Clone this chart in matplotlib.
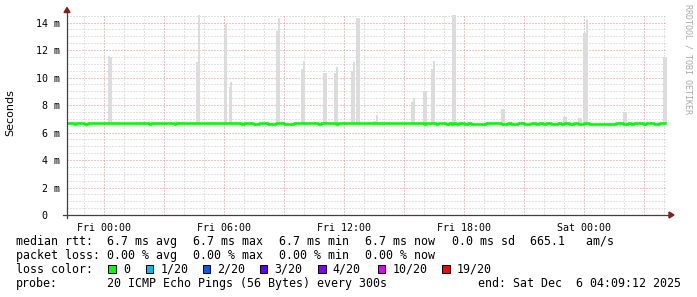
import matplotlib
matplotlib.use("Agg")
import matplotlib.pyplot as plt
from matplotlib.patches import Rectangle, Polygon
from matplotlib.lines import Line2D
import numpy as np

# ---------------- data (hours relative to Fri 00:00, values in ms) ----------------
t_start = -1.85
t_end = 28.15
line_end = 28.1
median_base = 6.72
dip_value = 6.6
dip_start = [-1.5, -1.0, 2.25, 3.5, 6.85, 7.45, 8.2, 9.0, 10.7, 11.6, 16.0, 16.6, 17.1,
             17.35, 17.6, 18.0, 18.35, 19.85, 20.35, 21.0, 21.6, 21.95, 22.35, 22.85,
             23.25, 23.7, 24.25, 25.95, 26.35, 26.95, 27.5]
dip_end = [-1.42, -0.8, 2.33, 3.58, 7.0, 7.75, 8.6, 9.5, 10.85, 11.7, 16.1, 16.7, 17.25,
           17.45, 17.75, 18.2, 19.1, 20.2, 20.7, 21.35, 21.75, 22.1, 22.7, 23.0,
           23.5, 24.0, 25.6, 26.2, 26.5, 27.1, 27.75]

smoke_t = [0.2, 0.283, 4.6, 4.683, 5.983, 6.067, 6.233, 6.317, 8.6, 8.683, 9.85, 9.933,
           10.95, 11.033, 11.5, 11.583, 12.35, 12.433, 12.6, 12.683, 13.45, 13.533, 13.617,
           15.35, 15.433, 15.95, 16.033, 16.35, 16.433, 17.4, 17.483, 19.85, 19.933,
           22.95, 23.033, 23.7, 23.783, 23.933, 24.017, 24.1, 25.95, 26.033, 27.95, 28.033]
smoke_top = [11.6, 11.5, 11.1, 15.0, 13.0, 13.9, 9.3, 9.7, 13.4, 14.3, 10.6, 11.2,
             10.3, 10.3, 10.3, 10.8, 10.5, 11.1, 14.35, 14.35, 6.86, 6.86, 7.27,
             8.2, 8.5, 9.0, 9.0, 10.6, 11.2, 15.0, 15.0, 7.7, 7.7,
             7.15, 7.15, 7.03, 7.03, 13.26, 13.26, 14.18, 7.5, 7.5, 11.5, 11.5]
smoke_base = 6.6

x_tick_pos = [0, 3, 6, 9, 12, 15, 18, 21, 24, 27]
x_tick_labels = ["Fri 00:00", "", "Fri 06:00", "", "Fri 12:00", "", "Fri 18:00", "",
                 "Sat 00:00", ""]
y_tick_pos = [0, 2, 4, 6, 8, 10, 12, 14]
y_tick_labels = ["0  ", "2 m", "4 m", "6 m", "8 m", "10 m", "12 m", "14 m"]

legend_rtt = [("median rtt:", 16), ("6.7 ms avg", 107.3), ("6.7 ms max", 193.3),
              ("6.7 ms min", 279.3), ("6.7 ms now", 365), ("0.0 ms sd", 451.7),
              ("665.1   am/s", 530)]
legend_loss = [("packet loss:", 16), ("0.00 % avg", 107.3), ("0.00 % max", 193.3),
               ("0.00 % min", 279.3), ("0.00 % now", 365)]
loss_labels = ["0", "1/20", "2/20", "3/20", "4/20", "10/20", "19/20"]
loss_colors = ["#00ff00", "#00b8ff", "#0059ff", "#5e00ff", "#7e00ff", "#dd00ff", "#ff0000"]
loss_box_x = [108.3, 145.7, 202.7, 260.0, 318.3, 377.7, 442.3]
probe_text = "20 ICMP Echo Pings (56 Bytes) every 300s"
end_text = "end: Sat Dec  6 04:09:12 2025"

# ---------------- figure ----------------
W, H = 697, 297
fig = plt.figure(figsize=(W / 100, H / 100), dpi=100)
fig.patch.set_facecolor("white")

def fx(px):
    return px / W

def fy(py):
    return 1 - py / H

x0, x1, ytop, ybot = 67, 667, 15, 215
ax = fig.add_axes([fx(x0), fy(ybot), (x1 - x0) / W, (ybot - ytop) / H])
ax.set_xlim(t_start, t_end)
ax.set_ylim(0, 14.55)
ax.set_facecolor("white")
for s in ax.spines.values():
    s.set_visible(False)

# grid
minor_c = "#c8c8c8"
major_c = "#e08c8c"
dots = (0, (1, 2))
for h in range(-1, 29):
    if h % 3 != 0:
        ax.axvline(h, color=minor_c, lw=0.72, ls=dots, zorder=0)
for v in np.arange(0.5, 14.6, 0.5):
    if v % 2 != 0:
        ax.axhline(v, color=minor_c, lw=0.72, ls=dots, zorder=0)
for h in x_tick_pos:
    ax.axvline(h, color=major_c, lw=0.72, ls=dots, zorder=0.5)
for v in y_tick_pos[1:]:
    ax.axhline(v, color=major_c, lw=0.72, ls=dots, zorder=0.5)

# smoke
heights = [tp - smoke_base for tp in smoke_top]
ax.bar(smoke_t, heights, bottom=smoke_base, width=0.1, align="edge",
       color="#dcdcdc", linewidth=0, zorder=1, antialiased=False)

# median line as steps
xs = [t_start]
ys = [median_base]
for a, b in zip(dip_start, dip_end):
    xs += [a, b]
    ys += [dip_value, median_base]
xs.append(line_end)
ys.append(median_base)
ax.plot(xs, ys, drawstyle="steps-post", color="#00ff00", lw=1.9, zorder=3,
        solid_capstyle="butt")

# ticks
mono = "DejaVu Sans Mono"
ax.set_xticks(x_tick_pos)
ax.set_xticklabels(x_tick_labels, fontfamily=mono, fontsize=7.2)
ax.set_yticks(y_tick_pos)
ax.set_yticklabels(y_tick_labels, fontfamily=mono, fontsize=7.2)
ax.tick_params(axis="x", length=0, pad=6, colors="#000000")
ax.tick_params(axis="y", length=0, pad=5, colors="#000000")

# axes lines and arrows
axis_c = "#404040"
arrow_c = "#8b1a1a"
fig.add_artist(Line2D([fx(63), fx(669)], [fy(ybot), fy(ybot)], color=axis_c, lw=0.9))
fig.add_artist(Line2D([fx(x0), fx(x0)], [fy(218), fy(12)], color=axis_c, lw=0.9))
fig.add_artist(Polygon([[fx(669), fy(212)], [fx(674), fy(215)], [fx(669), fy(218)]],
                       closed=True, color=arrow_c, transform=fig.transFigure))
fig.add_artist(Polygon([[fx(64), fy(12.5)], [fx(67), fy(7.5)], [fx(70), fy(12.5)]],
                       closed=True, color=arrow_c, transform=fig.transFigure))

# y label and watermark
fig.text(fx(10.5), fy(113), "Seconds", rotation=90, ha="center", va="center",
         fontsize=8.0, fontfamily="DejaVu Sans", color="#000000")
fig.text(fx(688), fy(59), "RRDTOOL / TOBI OETIKER", rotation=-90, ha="center",
         va="center", fontsize=6.0, fontfamily=mono, color="#a8a8a8")

# legend rows
lfs = 8.4
for txt, px in legend_rtt:
    fig.text(fx(px), fy(245), txt, fontsize=lfs, fontfamily=mono, va="baseline")
for txt, px in legend_loss:
    fig.text(fx(px), fy(259), txt, fontsize=lfs, fontfamily=mono, va="baseline")
fig.text(fx(16), fy(273), "loss color:", fontsize=lfs, fontfamily=mono, va="baseline")
for lab, col, bx in zip(loss_labels, loss_colors, loss_box_x):
    fig.add_artist(Rectangle((fx(bx), fy(272.5)), 7.3 / W, 8 / H, facecolor=col,
                             edgecolor="#000000", lw=0.7, transform=fig.transFigure))
    fig.text(fx(bx + 14.6), fy(273), lab, fontsize=lfs, fontfamily=mono, va="baseline")
fig.text(fx(16), fy(287), "probe:", fontsize=lfs, fontfamily=mono, va="baseline")
fig.text(fx(107.3), fy(287), probe_text, fontsize=lfs, fontfamily=mono, va="baseline")
fig.text(fx(478.3), fy(287), end_text, fontsize=lfs, fontfamily=mono, va="baseline")

fig.savefig("out.png", dpi=100, facecolor="white")
